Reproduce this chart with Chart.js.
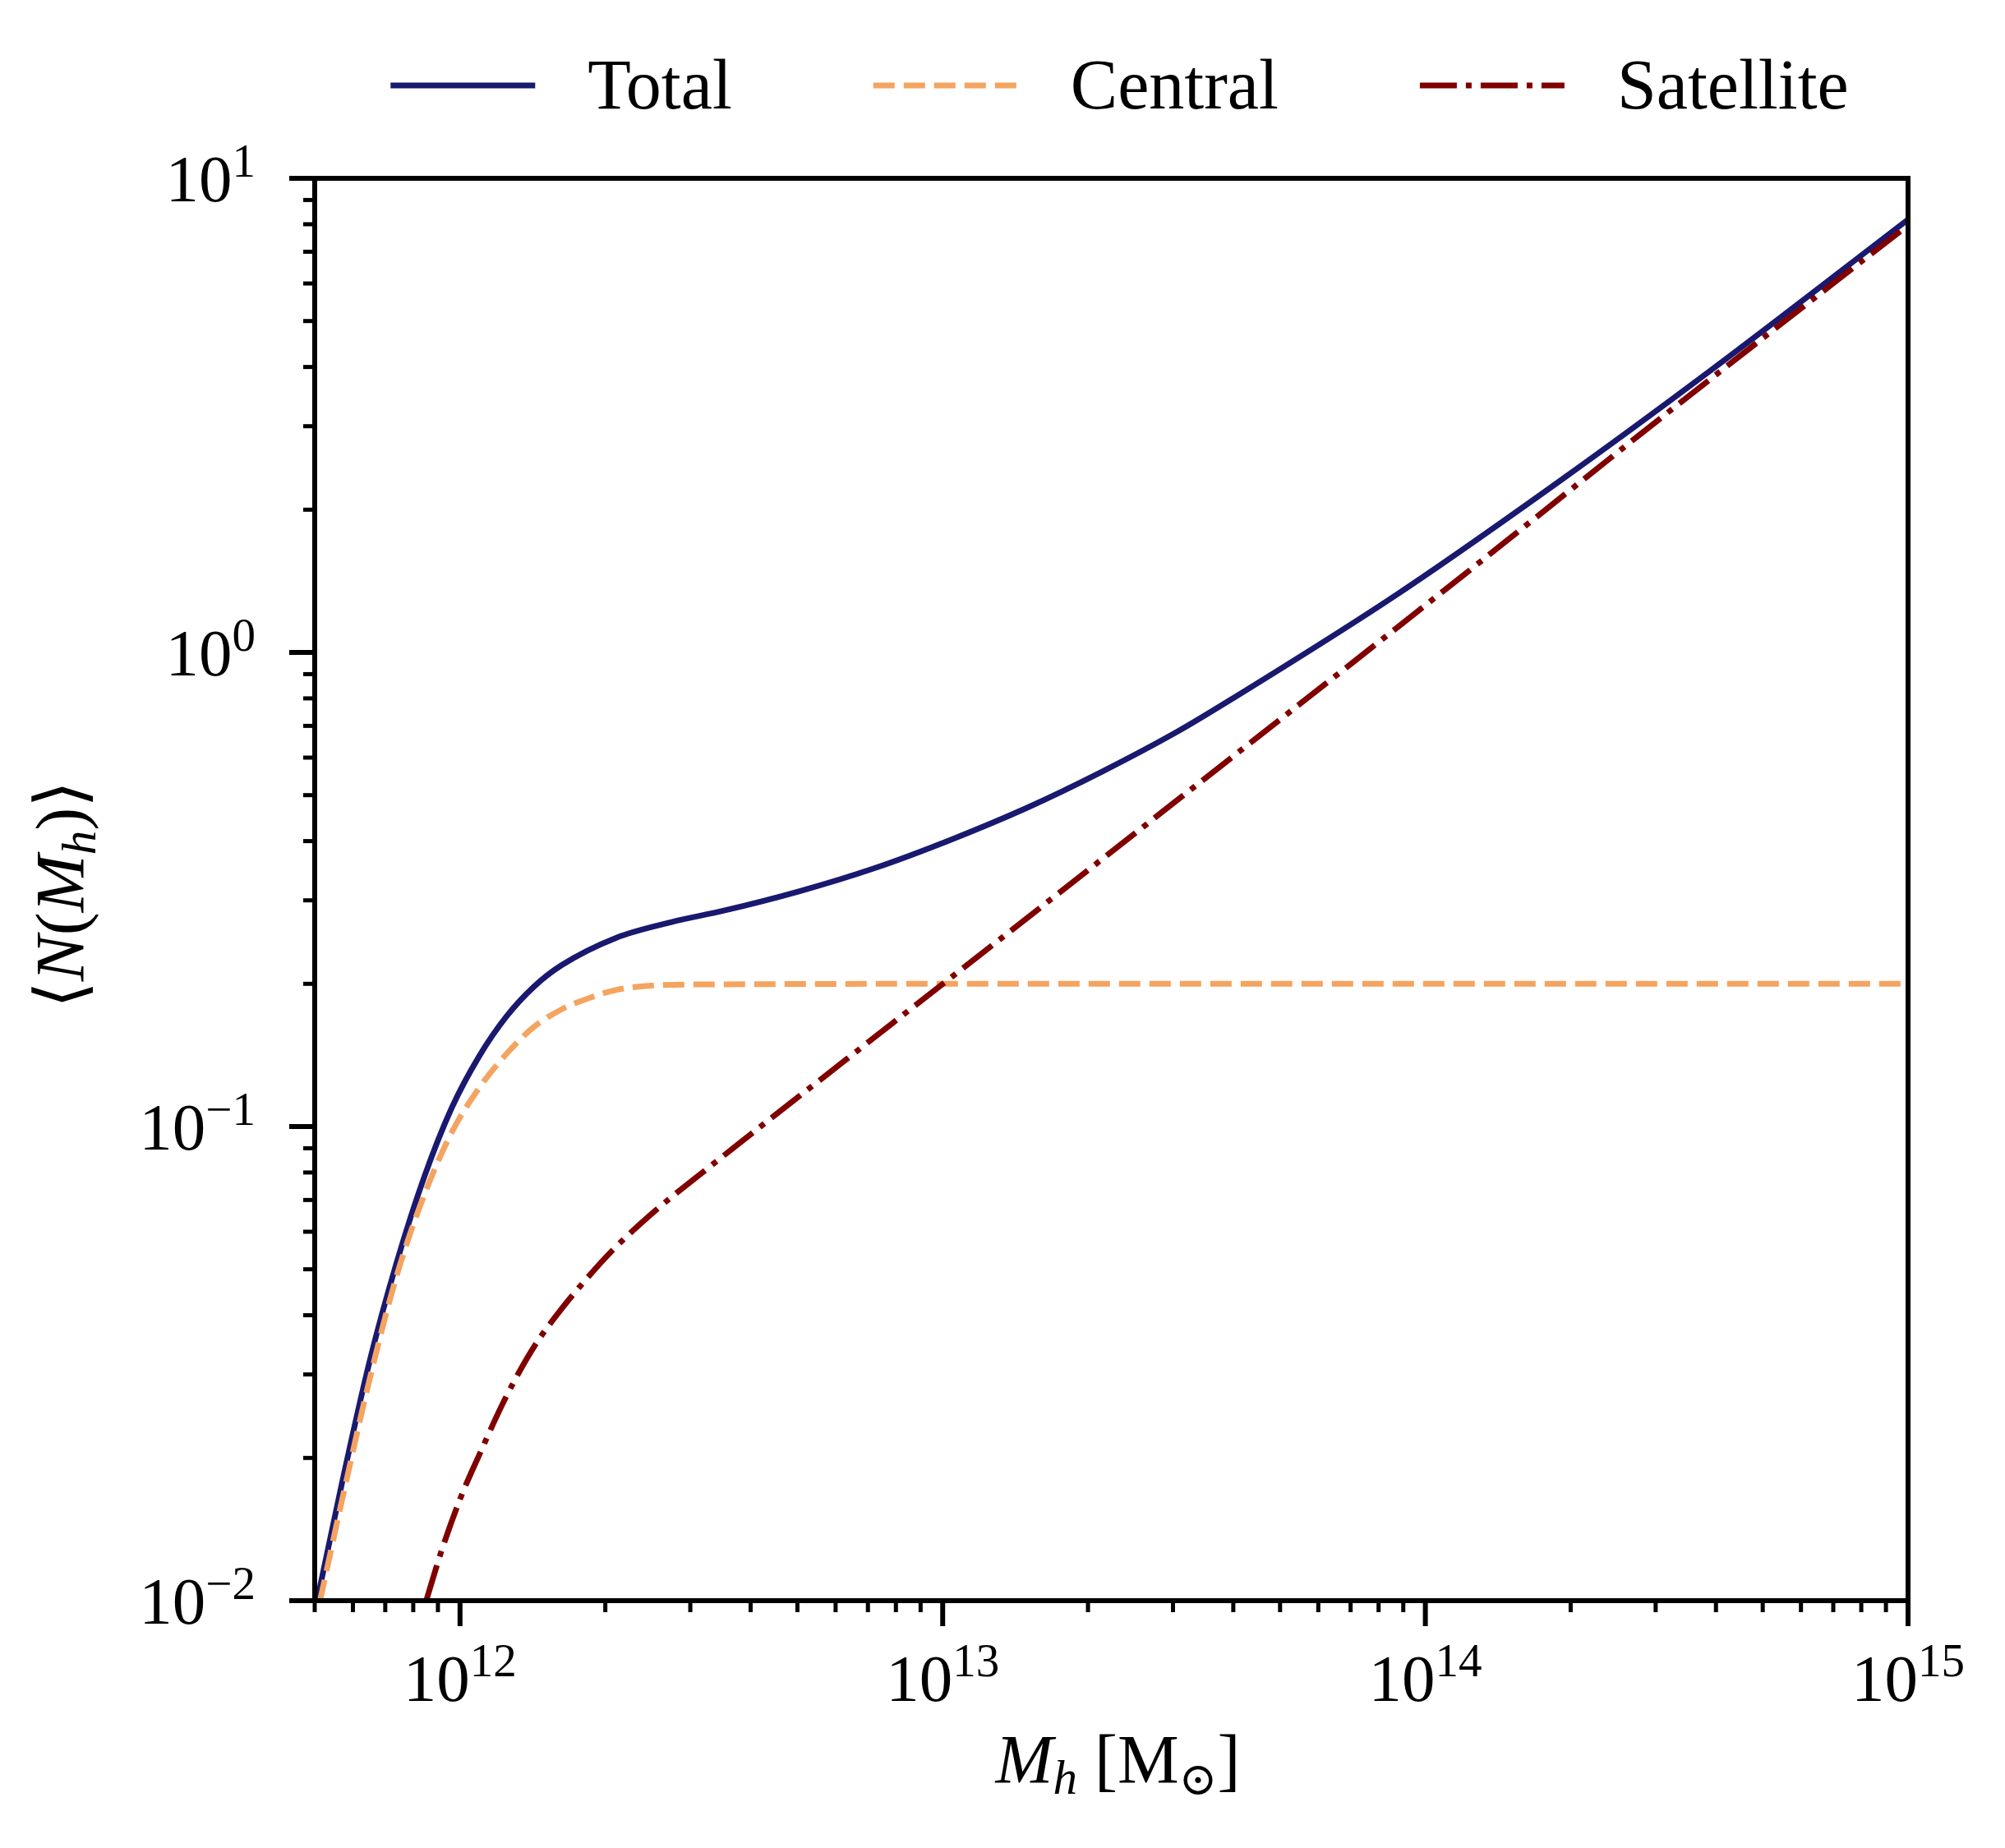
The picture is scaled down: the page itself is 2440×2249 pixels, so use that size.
<!DOCTYPE html>
<html>
<head>
<meta charset="utf-8">
<title>Halo occupation</title>
<script src="https://cdn.jsdelivr.net/npm/chart.js@4.4.1/dist/chart.umd.min.js"></script>
<style>
  html, body { margin: 0; padding: 0; background: #ffffff; }
  canvas { display: block; }
</style>
</head>
<body>
<canvas id="hodChart" width="2440" height="2249"></canvas>
<script>
// values (log10 of halo mass, mean occupation)
var seriesLabels = ['Total', 'Central', 'Satellite'];

var totalLogMass = [11.704, 11.756, 11.813, 11.869, 11.926, 11.983, 12.040, 12.096, 12.153, 12.210,
  12.323, 12.437, 12.545, 12.702, 12.859, 13.017, 13.174, 13.331, 13.488, 13.601,
  13.942, 14.282, 14.594, 15.000];
var totalN = [0.0100, 0.01782, 0.03206, 0.05176, 0.07834, 0.1096, 0.1409, 0.1706, 0.1972, 0.2188,
  0.2500, 0.2698, 0.2851, 0.3133, 0.3508, 0.4027, 0.4699, 0.5610, 0.6823, 0.7998,
  1.327, 2.313, 3.954, 8.185];

var centralLogMass = [11.710, 11.756, 11.813, 11.869, 11.926, 11.983, 12.040, 12.096, 12.153, 12.210,
  12.267, 12.323, 12.409, 12.550, 13.0, 14.0, 15.0];
var centralN = [0.0100, 0.01637, 0.02938, 0.04853, 0.07178, 0.09727, 0.1208, 0.1422, 0.1622, 0.1766,
  0.1866, 0.1941, 0.1986, 0.1995, 0.2, 0.2, 0.2];

var satelliteLogMass = [11.930, 11.960, 12.000, 12.040, 12.096, 12.153, 12.210, 12.247, 12.313, 12.405,
  12.501, 12.599, 12.699, 12.797, 12.896, 13.017, 13.488, 14.032, 14.521, 15.000];
var satelliteN = [0.0100, 0.01259, 0.01637, 0.02032, 0.02698, 0.03428, 0.04121, 0.04581, 0.05445, 0.06653,
  0.07980, 0.09572, 0.1151, 0.1377, 0.1652, 0.2061, 0.4898, 1.334, 3.319, 7.962];

var massRange = [5e11, 1e15];
var occupationRange = [1e-2, 1e1];

var serif = '"Liberation Serif", "DejaVu Serif", serif';
var lineW = 7;

function toPoints(logMass, values) {
  return logMass.map(function (lm, i) {
    return { x: Math.pow(10, lm), y: values[i] };
  });
}

function fontOf(size, italic) {
  return (italic ? 'italic ' : '') + size + 'px ' + serif;
}

// draws a row of text pieces (for sub/superscripts) starting from x
function drawRuns(ctx, runs, x, y, align) {
  var w = 0;
  runs.forEach(function (r) {
    ctx.font = fontOf(r.size, r.italic);
    r.w = ctx.measureText(r.text).width;
    w += r.w;
  });
  var cx = align === 'center' ? x - w / 2 : (align === 'right' ? x - w : x);
  runs.forEach(function (r) {
    ctx.font = fontOf(r.size, r.italic);
    ctx.fillText(r.text, cx, y + (r.dy || 0));
    cx += r.w;
  });
}

function powerRuns(exp) {
  var e = exp < 0 ? '\u2212' + (-exp) : String(exp);
  return [{ text: '10', size: 81 }, { text: e, size: 57, dy: -30 }];
}

function logTicks(min, max) {
  var out = [];
  for (var e = Math.floor(Math.log10(min)); e <= Math.ceil(Math.log10(max)); e++) {
    for (var k = 1; k <= 9; k++) {
      var v = k * Math.pow(10, e);
      if (v >= min * 0.999 && v <= max * 1.001) out.push({ value: v, major: k === 1, exp: e });
    }
  }
  return out;
}

var axisDecor = {
  id: 'axisDecor',
  afterDatasetsDraw: function (chart) {
    var ctx = chart.ctx, a = chart.chartArea;
    var xs = chart.scales.x, ys = chart.scales.y;
    ctx.save();
    ctx.strokeStyle = '#000';
    ctx.fillStyle = '#000';
    ctx.textAlign = 'left';
    ctx.textBaseline = 'alphabetic';

    ctx.lineWidth = 6;
    ctx.strokeRect(a.left, a.top, a.right - a.left, a.bottom - a.top);

    logTicks(xs.min, xs.max).forEach(function (t) {
      var px = xs.getPixelForValue(t.value);
      ctx.lineWidth = t.major ? 6 : 5;
      ctx.beginPath();
      ctx.moveTo(px, a.bottom);
      ctx.lineTo(px, a.bottom + (t.major ? 31 : 14));
      ctx.stroke();
      if (t.major) drawRuns(ctx, powerRuns(t.exp), px, a.bottom + 122, 'center');
    });

    logTicks(ys.min, ys.max).forEach(function (t) {
      var py = ys.getPixelForValue(t.value);
      ctx.lineWidth = t.major ? 6 : 5;
      ctx.beginPath();
      ctx.moveTo(a.left, py);
      ctx.lineTo(a.left - (t.major ? 31 : 14), py);
      ctx.stroke();
      if (t.major) drawRuns(ctx, powerRuns(t.exp), a.left - 72, py + 28, 'right');
    });

    // axis titles
    var midX = (a.left + a.right) / 2 + 8;
    drawRuns(ctx, [
      { text: 'M', size: 84, italic: true },
      { text: 'h', size: 59, italic: true, dy: 13 },
      { text: ' [M', size: 84 },
      { text: '\u2299', size: 56, dy: 14 },
      { text: ']', size: 84 }
    ], midX, a.bottom + 222, 'center');

    ctx.save();
    ctx.translate(102, (a.top + a.bottom) / 2 + 6);
    ctx.rotate(-Math.PI / 2);
    drawRuns(ctx, [
      { text: '\u27E8', size: 84 },
      { text: 'N', size: 84, italic: true },
      { text: '(', size: 84 },
      { text: 'M', size: 84, italic: true },
      { text: 'h', size: 59, italic: true, dy: 14 },
      { text: ')', size: 84 },
      { text: '\u27E9', size: 84 }
    ], 0, 0, 'center');
    ctx.restore();

    // legend row above the axes
    var sample = 176, gap = 64, spacing = 172, legendY = 104;
    ctx.font = fontOf(86);
    var items = chart.data.datasets.map(function (ds) {
      return { ds: ds, w: ctx.measureText(ds.label).width };
    });
    var total = items.reduce(function (s, it) { return s + sample + gap + it.w; }, 0) + spacing * (items.length - 1);
    var cx = midX + 2 - total / 2;
    items.forEach(function (it) {
      ctx.save();
      ctx.strokeStyle = it.ds.borderColor;
      ctx.lineWidth = lineW;
      ctx.lineCap = 'butt';
      ctx.setLineDash(it.ds.borderDash || []);
      ctx.beginPath();
      ctx.moveTo(cx, legendY);
      ctx.lineTo(cx + sample, legendY);
      ctx.stroke();
      ctx.restore();
      ctx.font = fontOf(86);
      ctx.fillText(it.ds.label, cx + sample + gap, legendY + 28);
      cx += sample + gap + it.w + spacing;
    });

    ctx.restore();
  }
};

var ctx = document.getElementById('hodChart').getContext('2d');
var hodChart = new Chart(ctx, {
  type: 'line',
  data: {
    datasets: [{
      label: seriesLabels[0],
      data: toPoints(totalLogMass, totalN),
      borderColor: '#191970',
      borderWidth: lineW,
      order: 3
    }, {
      label: seriesLabels[1],
      data: toPoints(centralLogMass, centralN),
      borderColor: '#f4a460',
      borderWidth: lineW,
      borderDash: [26, 11],
      order: 2
    }, {
      label: seriesLabels[2],
      data: toPoints(satelliteLogMass, satelliteN),
      borderColor: '#800000',
      borderWidth: lineW,
      borderDash: [45, 11, 7, 11],
      order: 1
    }]
  },
  options: {
    responsive: false,
    devicePixelRatio: 1,
    animation: false,
    layout: {
      padding: { left: 383, right: 118, top: 217, bottom: 301 }
    },
    elements: {
      point: { radius: 0, hoverRadius: 0 },
      line: { cubicInterpolationMode: 'monotone', borderCapStyle: 'butt', borderJoinStyle: 'round', fill: false }
    },
    scales: {
      x: { type: 'logarithmic', min: massRange[0], max: massRange[1], display: false },
      y: { type: 'logarithmic', min: occupationRange[0], max: occupationRange[1], display: false }
    },
    plugins: {
      legend: { display: false },
      tooltip: { enabled: false }
    }
  },
  plugins: [axisDecor]
});
</script>
</body>
</html>
